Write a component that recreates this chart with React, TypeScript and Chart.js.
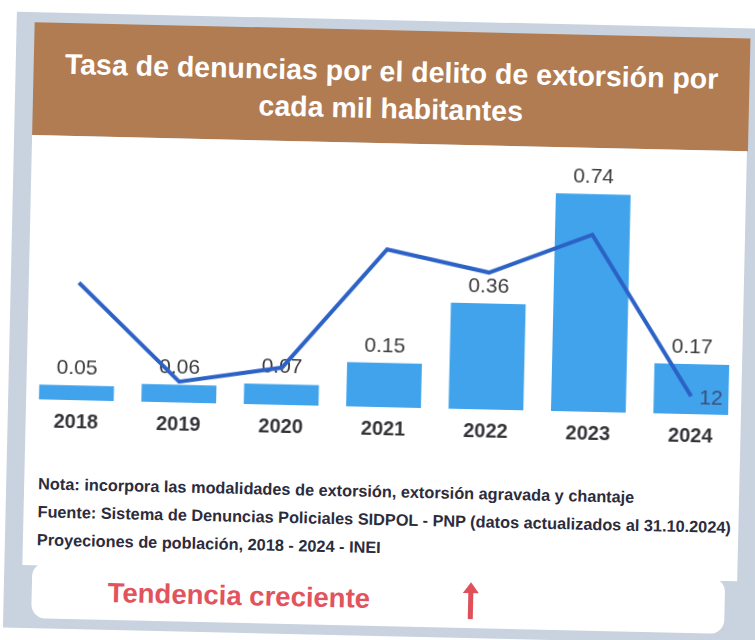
import React, { useEffect, useRef } from "react";
import { Chart, registerables } from "chart.js";

Chart.register(...registerables);

const years = ["2018", "2019", "2020", "2021", "2022", "2023", "2024"];
const rateValues = [0.05, 0.06, 0.07, 0.15, 0.36, 0.74, 0.17];
const rateLabels = ["0.05", "0.06", "0.07", "0.15", "0.36", "0.74", "0.17"];
const trendValues = [0.79, 0.14, 0.25, 1.06, 0.92, 1.19, 0.12];
const trendLabels = ["", "", "", "", "", "", "12"];
const titleLines = ["Tasa de denuncias por el delito de extorsión por", "cada mil habitantes"];
const noteLines = [
  "Nota: incorpora las modalidades de extorsión, extorsión agravada y chantaje",
  "Fuente: Sistema de Denuncias Policiales SIDPOL - PNP (datos actualizados al 31.10.2024)",
  "Proyeciones de población, 2018 - 2024 - INEI",
];
const footerText = "Tendencia creciente";

const BAR_COLOR = "#40a3ec";
const LINE_COLOR = "#2c62c6";

const labelPlugin = {
  id: "valueLabels",
  afterDatasetDraw(chart: any, args: any) {
    const ctx = chart.ctx;
    if (args.index === 0) {
      const meta = chart.getDatasetMeta(0);
      ctx.save();
      ctx.font = "21px 'Liberation Sans', Arial, sans-serif";
      ctx.fillStyle = "#3b3b3f";
      ctx.textAlign = "center";
      ctx.textBaseline = "middle";
      meta.data.forEach((bar: any, i: number) => {
        ctx.fillText(rateLabels[i], bar.x, bar.y - 17);
      });
      ctx.restore();
    }
    if (args.index === 1) {
      const meta = chart.getDatasetMeta(1);
      ctx.save();
      ctx.font = "21px 'Liberation Sans', Arial, sans-serif";
      ctx.fillStyle = "#3f4d78";
      ctx.textAlign = "center";
      ctx.textBaseline = "middle";
      meta.data.forEach((pt: any, i: number) => {
        if (trendLabels[i]) ctx.fillText(trendLabels[i], pt.x + 20, pt.y + 2);
      });
      ctx.restore();
    }
  },
};

function ChartBox() {
  const ref = useRef<HTMLCanvasElement>(null);
  useEffect(() => {
    if (!ref.current) return;
    const chart = new Chart(ref.current, {
      type: "bar",
      data: {
        labels: years,
        datasets: [
          {
            type: "bar",
            data: rateValues,
            backgroundColor: BAR_COLOR,
            borderWidth: 0,
            categoryPercentage: 1,
            barPercentage: 0.73,
            yAxisID: "y",
            order: 2,
          },
          {
            type: "line",
            data: trendValues,
            borderColor: LINE_COLOR,
            borderWidth: 4,
            pointRadius: 0,
            tension: 0,
            fill: false,
            yAxisID: "y2",
            order: 1,
          } as any,
        ],
      },
      options: {
        animation: false,
        responsive: false,
        maintainAspectRatio: false,
        layout: { padding: { top: 11, bottom: 5, left: 0, right: 0 } },
        plugins: { legend: { display: false }, tooltip: { enabled: false } },
        scales: {
          x: {
            grid: { display: false, drawTicks: false },
            border: { display: false },
            ticks: {
              padding: 10,
              color: "#333338",
              font: { family: "'Liberation Sans', Arial, sans-serif", size: 20, weight: "bold" },
            },
          },
          y: { display: false, min: 0, max: 0.86 },
          y2: { display: false, min: 0, max: 1.7 },
        },
      },
      plugins: [labelPlugin],
    });
    return () => chart.destroy();
  }, []);
  return <canvas ref={ref} width={717} height={313} style={{ position: "absolute", left: 27, top: 143, width: 717, height: 313 }} />;
}

export default function App() {
  return (
    <div style={{ position: "fixed", left: 0, top: 0, width: 755, height: 640, overflow: "hidden", background: "#ffffff" }}>
      <div style={{ position: "absolute", left: 0, top: 0, width: 755, height: 640, transform: "rotate(1.3deg)", transformOrigin: "378px 320px" }}>
        <div style={{ position: "absolute", left: 10, top: 20, width: 800, height: 616, background: "#c8d3df" }} />
        <div style={{ position: "absolute", left: 28, top: 30, width: 716, height: 113, background: "#b27c52" }} />
        <div style={{ position: "absolute", left: 28, top: 53, width: 716, textAlign: "center", color: "#ffffff", fontFamily: "'Liberation Sans', Arial, sans-serif", fontWeight: "bold", fontSize: 28.5, lineHeight: "37px" }}>
          {titleLines.map((t, i) => (<div key={i}>{t}</div>))}
        </div>
        <div style={{ position: "absolute", left: 28, top: 143, width: 715, height: 430, background: "#ffffff" }} />
        <ChartBox />
        <div style={{ position: "absolute", left: 42, top: 477, width: 700, color: "#2c2c3c", fontFamily: "'Liberation Sans', Arial, sans-serif", fontWeight: "bold", fontSize: 16.3, lineHeight: "28px", whiteSpace: "nowrap" }}>
          {noteLines.map((t, i) => (<div key={i}>{t}</div>))}
        </div>
        <div style={{ position: "absolute", left: 38, top: 570, width: 693, height: 56, background: "#ffffff", borderRadius: 14 }} />
        <div style={{ position: "absolute", left: 114, top: 582, color: "#e2535d", fontFamily: "'Liberation Sans', Arial, sans-serif", fontWeight: "bold", fontSize: 27.5, lineHeight: "34px", whiteSpace: "nowrap" }}>
          {footerText}
        </div>
        <svg style={{ position: "absolute", left: 467, top: 579 }} width={20} height={40} viewBox="0 0 20 40">
          <rect x={7.5} y={9} width={5} height={29} fill="#e0505a" />
          <polygon points="2,12 10,1 18,12" fill="#e0505a" />
        </svg>
      </div>
    </div>
  );
}
